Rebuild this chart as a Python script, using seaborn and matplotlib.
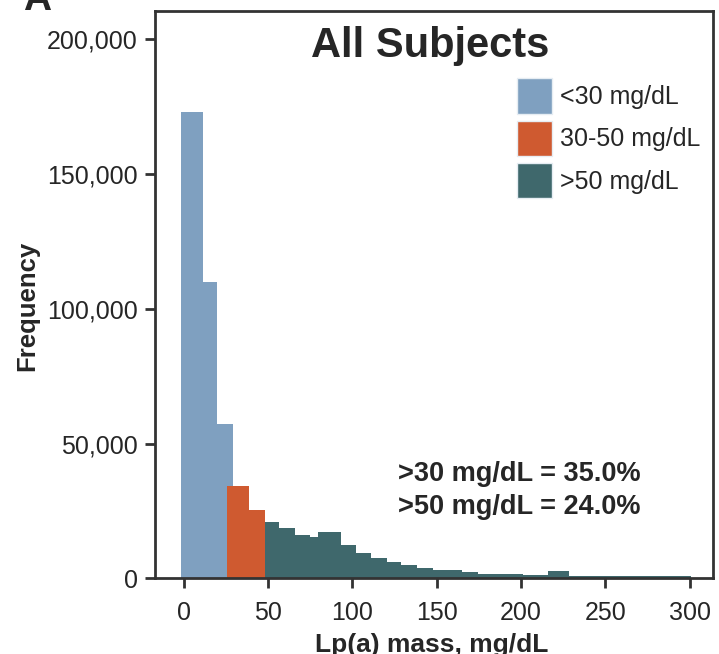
import matplotlib
matplotlib.use("Agg")
import matplotlib.pyplot as plt
import seaborn as sns
from matplotlib.patches import Patch
from matplotlib.ticker import FuncFormatter

# ---------------- data ----------------
group_labels = ["<30 mg/dL", "30-50 mg/dL", ">50 mg/dL"]
group_colors = ["#7FA0C0", "#CF5A30", "#3F686C"]

low_edges = [-1.7, 11.7, 20.0, 29.5]
low_counts = [172800, 110000, 57200]

mid_edges = [25.6, 38.8, 48.3]
mid_counts = [34100, 25500]

high_edges = [48.3, 56.8, 66.1, 74.8, 79.7, 93.2, 102.0, 111.0, 120.5,
              129.1, 138.3, 147.7, 165.3, 174.8, 201.5, 216.3, 228.7, 300.7]
high_counts = [21000, 18600, 16200, 15500, 17300, 12500, 9400, 7500, 6200,
               5000, 3700, 3150, 2350, 1750, 1300, 2600, 750]

title_text = "All Subjects"
annot_lines = [">30 mg/dL = 35.0%", ">50 mg/dL = 24.0%"]
x_label = "Lp(a) mass, mg/dL"
y_label = "Frequency"
x_ticks = [0, 50, 100, 150, 200, 250, 300]
y_ticks = [0, 50000, 100000, 150000, 200000]
panel_label = "A"

# ---------------- style ----------------
sns.set_style("ticks")
plt.rcParams["font.family"] = ["Liberation Sans", "DejaVu Sans"]
TXT = "#262626"
plt.rcParams["text.color"] = TXT

fig = plt.figure(figsize=(7.19, 6.54), dpi=100)
ax = fig.add_axes([0.2156, 0.1156, 0.7761, 0.8680])

groups = [(low_edges, low_counts), (mid_edges, mid_counts), (high_edges, high_counts)]
for (edges, counts), color in zip(groups, group_colors):
    centers = [(a + b) / 2 for a, b in zip(edges[:-1], edges[1:])]
    sns.histplot(x=centers, weights=counts, bins=edges, color=color,
                 alpha=1, linewidth=0, stat="count", ax=ax)

ax.set_xlim(-16.9, 313.9)
ax.set_ylim(0, 210500)
ax.set_xticks(x_ticks)
ax.set_yticks(y_ticks)
ax.yaxis.set_major_formatter(FuncFormatter(lambda v, p: f"{int(v):,}"))

for s in ax.spines.values():
    s.set_visible(True)
    s.set_linewidth(2.0)
    s.set_color("#333333")

ax.tick_params(axis="both", direction="out", length=7.5, width=2,
               color="#333333", labelsize=18, labelcolor=TXT)
ax.tick_params(axis="y", pad=5)
ax.tick_params(axis="x", pad=8.5)

ax.set_xlabel(x_label, fontsize=19, fontweight="bold", color=TXT)
ax.set_ylabel(y_label, fontsize=18.5, fontweight="bold", color=TXT)
ax.xaxis.set_label_coords(0.496, -0.0965)
ax.yaxis.set_label_coords(-0.207, 0.48)

ax.text(0.494, 0.919, title_text, transform=ax.transAxes, fontsize=30,
        fontweight="bold", color=TXT, ha="center", va="baseline")

ax.text(0.436, 0.172, annot_lines[0], transform=ax.transAxes,
        fontsize=19.5, fontweight="bold", color=TXT, va="baseline", ha="left")
ax.text(0.436, 0.1134, annot_lines[1], transform=ax.transAxes,
        fontsize=19.5, fontweight="bold", color=TXT, va="baseline", ha="left")

handles = [Patch(facecolor=c, edgecolor="#e6edf3", linewidth=1.0) for c in group_colors]
ax.legend(handles, group_labels, loc="upper left", bbox_to_anchor=(0.648, 0.881),
          frameon=False, fontsize=18, handlelength=1.43, handleheight=1.81,
          labelspacing=0.27, handletextpad=0.3, borderpad=0, borderaxespad=0)

fig.text(37 / 719, 0.985, panel_label, fontsize=28, fontweight="bold",
         color=TXT, ha="center", va="baseline")

fig.savefig("out.png", dpi=100)
